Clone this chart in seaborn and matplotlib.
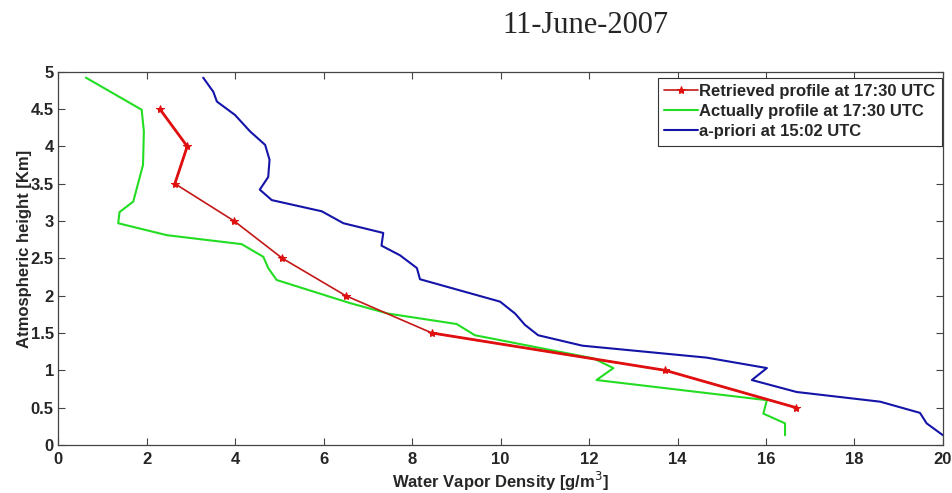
import matplotlib
matplotlib.use("Agg")
import matplotlib.pyplot as plt
import seaborn as sns
import pandas as pd

# Retrieved profile (red, with markers)
ret_density = [2.30, 2.92, 2.64, 3.98, 5.07, 6.50, 8.45, 13.72, 16.68]
ret_height = [4.50, 4.00, 3.50, 3.00, 2.50, 2.00, 1.50, 1.00, 0.50]

# Actual profile (green)
act_density = [0.63, 1.89, 1.94, 1.92, 1.70, 1.39, 1.36, 2.46, 4.15, 4.64, 4.75,
               4.94, 6.60, 7.46, 9.01, 9.42, 12.10, 12.55, 12.17, 16.02, 15.94,
               16.43, 16.43]
act_height = [4.92, 4.49, 4.20, 3.75, 3.26, 3.12, 2.97, 2.81, 2.69, 2.52, 2.37,
              2.21, 1.90, 1.76, 1.62, 1.47, 1.16, 1.03, 0.87, 0.60, 0.42,
              0.29, 0.13]

# a-priori profile (blue)
apr_density = [3.28, 3.51, 3.59, 4.00, 4.34, 4.68, 4.78, 4.75, 4.56, 4.83, 5.96,
               6.45, 7.35, 7.31, 7.73, 8.11, 8.18, 9.99, 10.33, 10.55, 10.85,
               11.85, 14.66, 16.02, 15.68, 16.69, 18.58, 19.48, 19.63, 20.00]
apr_height = [4.92, 4.73, 4.60, 4.42, 4.20, 4.02, 3.82, 3.59, 3.42, 3.28, 3.13,
              2.97, 2.84, 2.67, 2.54, 2.37, 2.22, 1.92, 1.76, 1.61, 1.47,
              1.33, 1.17, 1.03, 0.87, 0.71, 0.58, 0.43, 0.29, 0.13]

x_ticks = [0, 2, 4, 6, 8, 10, 12, 14, 16, 18, 20]
y_ticks = [0, 0.5, 1, 1.5, 2, 2.5, 3, 3.5, 4, 4.5, 5]
y_tick_labels = ["0", "0.5", "1", "1.5", "2", "2.5", "3", "3.5", "4", "4.5", "5"]

sns.set_style("ticks")
plt.rcParams["font.family"] = ["Liberation Sans", "DejaVu Sans"]

FS = 12

fig = plt.figure(figsize=(9.53, 4.93), dpi=100)
ax = fig.add_axes([0.0609, 0.0974, 0.9286, 0.7572])

retrieved = pd.DataFrame({"d": ret_density, "h": ret_height})
actual = pd.DataFrame({"d": act_density, "h": act_height})
apriori = pd.DataFrame({"d": apr_density, "h": apr_height})

# thin base line for the retrieved profile, heavier strokes at the top and bottom
sns.lineplot(data=retrieved, x="d", y="h", sort=False, estimator=None, ax=ax,
             color="#C41818", linewidth=1.2, marker="*", markersize=6,
             markeredgecolor="#E01010", markerfacecolor="#E01010",
             label="Retrieved profile at 17:30 UTC", zorder=3)
for seg in (retrieved.iloc[0:3], retrieved.iloc[6:9]):
    sns.lineplot(data=seg, x="d", y="h", sort=False, estimator=None, ax=ax,
                 color="#E01010", linewidth=2.0, legend=False, zorder=3)
sns.lineplot(data=actual, x="d", y="h", sort=False, estimator=None, ax=ax,
             color="#22DD22", linewidth=1.5, label="Actually profile at 17:30 UTC")
sns.lineplot(data=apriori, x="d", y="h", sort=False, estimator=None, ax=ax,
             color="#1414A8", linewidth=1.5, label="a-priori at 15:02 UTC")

ax.set_xlim(0, 20)
ax.set_ylim(0, 5)
ax.set_xticks(x_ticks)
ax.set_xticklabels([str(t) for t in x_ticks])
ax.set_yticks(y_ticks)
ax.set_yticklabels(y_tick_labels)
ax.tick_params(direction="in", top=True, right=True, length=5, width=0.8,
               labelsize=FS, color="#444444")
ax.tick_params(axis="x", pad=5)
ax.tick_params(axis="y", pad=3)
for lab in ax.get_xticklabels() + ax.get_yticklabels():
    lab.set_fontweight("bold")
for sp in ax.spines.values():
    sp.set_visible(True)
    sp.set_color("#444444")
    sp.set_linewidth(0.9)

ax.set_xlabel("Water Vapor Density [g/m$^3$]", fontsize=FS, fontweight="bold")
ax.set_ylabel("Atmospheric height [Km]", fontsize=FS, fontweight="bold")
ax.xaxis.set_label_coords(0.5, -0.067)
ax.yaxis.set_label_coords(-0.029, 0.525)

leg = ax.legend(loc="upper right", bbox_to_anchor=(0.9989, 0.984), fontsize=FS,
                frameon=True, fancybox=False, edgecolor="#333333", framealpha=1,
                handlelength=2.0, handletextpad=0.1, borderaxespad=0,
                borderpad=0.4, labelspacing=0.3)
leg.get_frame().set_linewidth(0.8)
for t in leg.get_texts():
    t.set_fontweight("bold")

fig.text(0.614, 1 - 33 / 493, "11-June-2007", ha="center", va="baseline",
         fontsize=22, family=["Liberation Serif", "DejaVu Serif"])

fig.savefig("out.png", dpi=100)
